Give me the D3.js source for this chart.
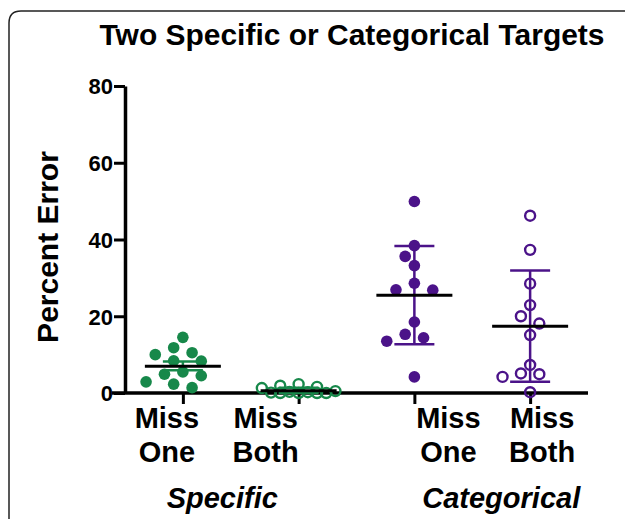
<!DOCTYPE html>
<html>
<head>
<meta charset="utf-8">
<script src="https://cdn.jsdelivr.net/npm/d3@7"></script>
<style>
  body { margin: 0; background: #fff; }
  svg { display: block; }
  text { font-family: "Liberation Sans", Arial, sans-serif; font-weight: bold; fill: #000; }
</style>
</head>
<body>
<div id="chart"></div>
<script>
/* Data (percent error, 12 subjects per group) */
var categories = ["specOne", "specBoth", "catOne", "catBoth"];
var labelLines = [["Miss", "One"], ["Miss", "Both"], ["Miss", "One"], ["Miss", "Both"]];
var groupNames = ["Specific", "Categorical"];
var specificMissOne = [14.5, 11.8, 10.5, 10.0, 8.4, 8.3, 5.5, 4.9, 4.5, 2.9, 2.3, 1.4];
var specificMissBoth = [2.3, 1.9, 1.6, 1.3, 0.5, 0.3, 0.2, 0.1, 0, 0, 0, 0];
var categoricalMissOne = [49.9, 38.4, 35.6, 33.2, 28.6, 26.9, 26.8, 18.5, 15.3, 14.4, 13.5, 4.2];
var categoricalMissBoth = [46.2, 37.3, 28.5, 22.9, 20.0, 18.1, 15.1, 7.3, 5.1, 4.9, 4.2, 0.2];
var groupMeans = [7.0, 0.6, 25.5, 17.4];
var errLow = [5.9, 0.0, 12.7, 2.9];
var errHigh = [8.2, 1.4, 38.3, 31.9];
var yTicks = [0, 20, 40, 60, 80];

var allValues = [specificMissOne, specificMissBoth, categoricalMissOne, categoricalMissBoth];
var green = "#17884a", purple = "#4b1389";
var colors = [green, green, purple, purple];
var filled = [true, false, true, false];

var width = 625, height = 519;
var svg = d3.select("#chart").append("svg")
    .attr("width", width)
    .attr("height", height);

// panel frame (rounded top-left corner, runs off right and bottom)
svg.append("path")
    .attr("d", "M9,519 L9,23 Q9,11 21,11 L625,11")
    .attr("fill", "none")
    .attr("stroke", "#222")
    .attr("stroke-width", 1.5);

var x = d3.scalePoint()
    .domain(categories)
    .range([125, 588])
    .padding(0.5);

var y = d3.scaleLinear()
    .domain([0, 80])
    .range([393, 86]);

// title
svg.append("text")
    .attr("x", 352)
    .attr("y", 45)
    .attr("text-anchor", "middle")
    .attr("font-size", 29)
    .attr("textLength", 505)
    .attr("lengthAdjust", "spacingAndGlyphs")
    .text("Two Specific or Categorical Targets");

// y axis
var yAxis = d3.axisLeft(y)
    .tickValues(yTicks)
    .tickSize(11)
    .tickSizeOuter(0)
    .tickPadding(1);

var gy = svg.append("g")
    .attr("transform", "translate(125,0)")
    .call(yAxis);
gy.select(".domain").attr("stroke", "#000").attr("stroke-width", 3.5);
gy.selectAll(".tick line").attr("stroke", "#000").attr("stroke-width", 3);
gy.selectAll(".tick text")
    .attr("font-size", 22)
    .attr("font-family", "'Liberation Sans', Arial, sans-serif")
    .attr("font-weight", "bold")
    .attr("dy", "0.36em");

// y axis title
svg.append("text")
    .attr("transform", "translate(58,247) rotate(-90)")
    .attr("text-anchor", "middle")
    .attr("font-size", 30)
    .text("Percent Error");

// x axis
var xAxis = d3.axisBottom(x)
    .tickSize(11)
    .tickSizeOuter(0)
    .tickFormat("");

var gx = svg.append("g")
    .attr("transform", "translate(0,393)")
    .call(xAxis);
gx.select(".domain")
    .attr("d", "M112,0H588")
    .attr("stroke", "#000").attr("stroke-width", 3.5);
gx.selectAll(".tick line").attr("stroke", "#000").attr("stroke-width", 3);

// category labels (offset from ticks as in the original figure)
var labelShift = [-16, -33, 34, 12];
categories.forEach(function(c, i) {
    var t = svg.append("text")
        .attr("text-anchor", "middle")
        .attr("font-size", 29);
    labelLines[i].forEach(function(line, j) {
        t.append("tspan")
            .attr("x", x(c) + labelShift[i])
            .attr("y", 428 + j * 34)
            .text(line);
    });
});

// group labels
[[0, 1], [2, 3]].forEach(function(pair, g) {
    var cx = (x(categories[pair[0]]) + labelShift[pair[0]] + x(categories[pair[1]]) + labelShift[pair[1]]) / 2 + 6;
    svg.append("text")
        .attr("x", cx)
        .attr("y", 508)
        .attr("text-anchor", "middle")
        .attr("font-size", 29)
        .attr("font-style", "italic")
        .text(groupNames[g]);
});

/* simple beeswarm: slots of 9.2px, spread until no overlap (max 4 slots each side) */
function swarm(values, cx) {
    var step = 9.2, minDist = 12.4, maxSlot = 4;
    var placed = [];
    var order = values.slice().sort(function(a, b) { return b - a; });
    order.forEach(function(v) {
        var py = y(v);
        var best = null, bestD = -1;
        for (var k = 0; k <= maxSlot * 2; k++) {
            var slot = k === 0 ? 0 : (k % 2 ? -Math.ceil(k / 2) : Math.ceil(k / 2));
            var px = cx + slot * step;
            var dmin = Infinity;
            placed.forEach(function(p) {
                var d = Math.hypot(p.x - px, p.y - py);
                if (d < dmin) dmin = d;
            });
            if (dmin >= minDist) { best = px; break; }
            if (dmin > bestD) { bestD = dmin; best = px; }
        }
        placed.push({x: best, y: py, v: v});
    });
    return placed;
}

categories.forEach(function(c, i) {
    var pts = swarm(allValues[i], x(c));
    var g = svg.append("g");

    g.selectAll("circle")
        .data(pts)
        .enter()
        .append("circle")
        .attr("cx", function(d) { return d.x; })
        .attr("cy", function(d) { return d.y; })
        .attr("r", filled[i] ? 5.8 : 5.0)
        .attr("fill", filled[i] ? colors[i] : "none")
        .attr("stroke", filled[i] ? "none" : colors[i])
        .attr("stroke-width", 2.4);

    // error bar
    var cx = x(c);
    g.append("line")
        .attr("x1", cx).attr("x2", cx)
        .attr("y1", y(errLow[i])).attr("y2", y(errHigh[i]))
        .attr("stroke", colors[i]).attr("stroke-width", 2.5);
    [errLow[i], errHigh[i]].forEach(function(v) {
        g.append("line")
            .attr("x1", cx - 20).attr("x2", cx + 20)
            .attr("y1", y(v)).attr("y2", y(v))
            .attr("stroke", colors[i]).attr("stroke-width", 2.5);
    });

    // mean
    g.append("line")
        .attr("x1", cx - 38).attr("x2", cx + 38)
        .attr("y1", y(groupMeans[i])).attr("y2", y(groupMeans[i]))
        .attr("stroke", "#000").attr("stroke-width", 3);
});
</script>
</body>
</html>
